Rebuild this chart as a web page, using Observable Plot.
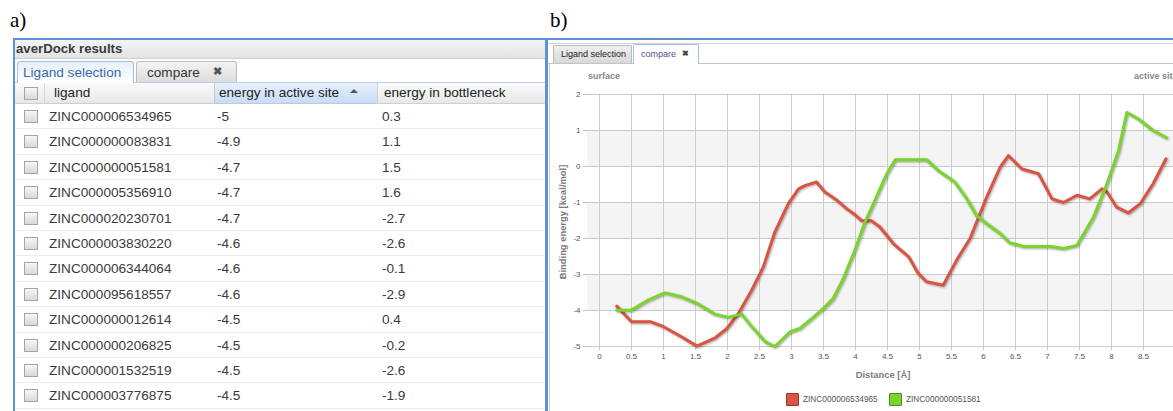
<!DOCTYPE html>
<html><head><meta charset="utf-8">
<script src="https://cdn.jsdelivr.net/npm/d3@7"></script>
<script src="https://cdn.jsdelivr.net/npm/@observablehq/plot@0.6"></script>
<style>
body{margin:0;width:1173px;height:411px;overflow:hidden;position:relative;background:#fff;font-family:"Liberation Sans",Arial,sans-serif;}
.abs{position:absolute;box-sizing:border-box;white-space:nowrap;}
.plabel{font-family:"Liberation Serif","Times New Roman",serif;font-size:21px;line-height:21px;color:#000;}
.cb{position:absolute;width:14px;height:13px;border:1px solid #a4a4a4;background:linear-gradient(#f7f7f7,#d9d9d9);box-sizing:border-box;}
.tcell{position:absolute;font-size:13.6px;color:#3a3a3a;}
#plotA svg g[aria-label="line"] path{filter:drop-shadow(1px 1.5px 1px rgba(0,0,0,0.35));}
</style></head><body>
<div id="root"></div>
<script>
// ---------- data ----------
const ligands = ["ZINC000006534965","ZINC000000083831","ZINC000000051581","ZINC000005356910","ZINC000020230701","ZINC000003830220","ZINC000006344064","ZINC000095618557","ZINC000000012614","ZINC000000206825","ZINC000001532519","ZINC000003776875"];
const energyActive = [-5,-4.9,-4.7,-4.7,-4.7,-4.6,-4.6,-4.6,-4.5,-4.5,-4.5,-4.5];
const energyBottleneck = [0.3,1.1,1.5,1.6,-2.7,-2.6,-0.1,-2.9,0.4,-0.2,-2.6,-1.9];
const tableHeaders = ["ligand","energy in active site","energy in bottleneck"];
const seriesNames = ["ZINC000006534965","ZINC000000051581"];
const seriesColors = ["#db5442","#79d42b"];
const redX = [0.27,0.50,0.79,1.00,1.28,1.52,1.80,1.99,2.17,2.38,2.56,2.74,2.95,3.11,3.21,3.39,3.52,3.71,3.86,3.97,4.10,4.25,4.38,4.59,4.83,4.98,5.11,5.37,5.58,5.79,6.05,6.26,6.39,6.60,6.86,7.07,7.25,7.46,7.66,7.85,7.93,8.08,8.26,8.45,8.65,8.85];
const redY = [-3.88,-4.31,-4.31,-4.45,-4.73,-4.99,-4.77,-4.50,-4.08,-3.43,-2.79,-1.82,-1.03,-0.62,-0.53,-0.43,-0.71,-0.94,-1.17,-1.31,-1.51,-1.51,-1.68,-2.14,-2.51,-2.97,-3.20,-3.30,-2.60,-2.00,-0.85,-0.02,0.30,-0.07,-0.20,-0.90,-1.00,-0.80,-0.90,-0.62,-0.71,-1.13,-1.29,-1.03,-0.48,0.21];
const greenX = [0.27,0.50,0.76,1.02,1.28,1.52,1.80,2.01,2.22,2.38,2.59,2.74,2.98,3.13,3.32,3.50,3.65,3.81,3.99,4.15,4.28,4.49,4.62,5.11,5.29,5.55,5.74,5.89,6.05,6.26,6.41,6.62,7.04,7.25,7.46,7.72,7.93,8.11,8.24,8.42,8.65,8.86];
const greenY = [-3.99,-3.99,-3.71,-3.51,-3.62,-3.80,-4.10,-4.19,-4.10,-4.45,-4.87,-5.00,-4.59,-4.50,-4.22,-3.94,-3.67,-3.11,-2.33,-1.54,-1.03,-0.20,0.19,0.19,-0.11,-0.43,-0.90,-1.36,-1.59,-1.86,-2.12,-2.22,-2.22,-2.28,-2.19,-1.40,-0.48,0.44,1.50,1.32,1.00,0.80];
const xGrid = [0,0.5,1,1.5,2,2.5,3,3.5,4,4.5,5,5.5,6,6.5,7,7.5,8,8.5,9];
const xTickLabels = [0,0.5,1,1.5,2,2.5,3,3.5,4,4.5,5,5.5,6,6.5,7,7.5,8,8.5];
const yTicks = [-5,-4,-3,-2,-1,0,1,2];
const xDomain = [-0.1875, 9.25];
const yDomain = [-5, 2];
const bandLo = [0,-2,-4];
const bandHi = [1,-1,-3];

// ---------- helpers ----------
const root = document.getElementById("root");
function box(css, text, cls){
  const d = document.createElement("div");
  d.className = "abs" + (cls ? " " + cls : "");
  d.style.cssText = css;
  if (text != null) d.textContent = text;
  root.appendChild(d);
  return d;
}

// ---------- panel a: table ----------
box("left:10px;top:10px;", "a)", "plabel");
box("left:13px;top:38px;width:534px;height:400px;border-left:2px solid #5f91d6;border-top:2px solid #5f91d6;border-right:2px solid #5f91d6;background:#fff;");
box("left:15px;top:40px;width:530px;height:19px;background:linear-gradient(#f4f4f4,#e3e3e3);border-bottom:1px solid #cfcfcf;font-weight:bold;font-size:13.2px;color:#3a3a3a;line-height:18px;padding-left:1px;", "averDock results");
box("left:15px;top:82px;width:530px;height:1px;background:#b9cde6;");
box("left:17px;top:61px;width:117px;height:22px;border:1px solid #a6c1e4;border-bottom:none;border-radius:3px 3px 0 0;background:linear-gradient(#e6f0fb,#ffffff);font-size:13.6px;color:#3a68b0;line-height:21px;padding-left:5px;", "Ligand selection");
box("left:136px;top:61px;width:101px;height:21px;border:1px solid #bcbcbc;border-bottom:none;border-radius:3px 3px 0 0;background:linear-gradient(#f3f3f3,#dcdcdc);font-size:13.6px;color:#333;line-height:21px;padding-left:10px;", "compare");
box("left:213px;top:61px;font-size:11px;line-height:21px;color:#555;font-weight:bold;", "\u2716");
// header row
box("left:15px;top:83px;width:530px;height:21px;background:linear-gradient(#fbfbfb,#e7e7e7);border-bottom:1px solid #cfcfcf;");
box("left:214px;top:83px;width:164px;height:21px;background:linear-gradient(#e6f0fc,#c8dcf5);border-left:1px solid #c9c9c9;border-right:1px solid #d3d3d3;border-bottom:1px solid #b7cbe6;");
box("left:44px;top:83px;width:1px;height:21px;background:#d8d8d8;");
const cbh = document.createElement("div"); cbh.className = "cb"; cbh.style.left = "24px"; cbh.style.top = "87px"; root.appendChild(cbh);
const headX = [54, 219, 384];
tableHeaders.forEach((h, i) => box(`left:${headX[i]}px;top:83px;line-height:20px;`, h, "tcell").style.color = "#222");
box("left:350px;top:89px;width:0;height:0;border-left:4px solid transparent;border-right:4px solid transparent;border-bottom:4px solid #555;");
// rows
const rowTop = 104, rowH = 25.4;
ligands.forEach((lig, i) => {
  const top = rowTop + i * rowH;
  box(`left:15px;top:${top}px;width:530px;height:${rowH}px;border-bottom:1px solid #ececec;background:#fff;`);
  const cb = document.createElement("div"); cb.className = "cb";
  cb.style.left = "24px"; cb.style.top = (top + 6) + "px"; root.appendChild(cb);
  box(`left:49px;top:${top}px;line-height:${rowH}px;`, lig, "tcell");
  box(`left:217px;top:${top}px;line-height:${rowH}px;`, String(energyActive[i]), "tcell");
  box(`left:382px;top:${top}px;line-height:${rowH}px;`, String(energyBottleneck[i]), "tcell");
});

// ---------- panel b: chart ----------
box("left:550px;top:10px;", "b)", "plabel");
box("left:545px;top:38px;width:700px;height:400px;border-left:3px solid #5f91d6;border-top:2px solid #5f91d6;background:#fff;");
box("left:548px;top:43px;width:700px;height:1px;background:#d2d2d2;");
box("left:548px;top:63px;width:700px;height:1px;background:#c4c4c4;");
box("left:549px;top:63px;width:1px;height:360px;background:#c9c9c9;");
box("left:553px;top:45px;width:79px;height:18px;border:1px solid #b9b9b9;border-bottom:none;border-radius:2px 2px 0 0;background:linear-gradient(#efefef,#d8d8d8);font-size:9px;color:#222;line-height:17px;padding-left:7px;", "Ligand selection");
box("left:633px;top:44px;width:66px;height:20px;border:1px solid #9dc1ea;border-bottom:none;border-radius:2px 2px 0 0;background:#fff;font-size:9px;color:#5a4c92;line-height:19px;padding-left:7px;", "compare");
box("left:682px;top:44px;font-size:8px;line-height:19px;color:#444;font-weight:bold;", "\u2716");
box("left:588px;top:71px;font-size:9px;font-weight:bold;color:#888;line-height:11px;", "surface");
box("left:1134px;top:71px;font-size:9px;font-weight:bold;color:#888;line-height:11px;", "active site");

const redData = redX.map((x, i) => ({x, y: redY[i], s: seriesNames[0]}));
const greenData = greenX.map((x, i) => ({x, y: greenY[i], s: seriesNames[1]}));
const bands = bandLo.map((lo, i) => ({lo, hi: bandHi[i]}));

const chart = Plot.plot({
  width: 644, height: 300,
  marginLeft: 40, marginRight: 0, marginTop: 30, marginBottom: 18,
  x: {domain: xDomain},
  y: {domain: yDomain},
  style: {fontFamily: "'Liberation Sans', Arial, sans-serif", fontSize: "8px", color: "#555", background: "transparent", overflow: "visible", maxWidth: "none"},
  marks: [
    Plot.rectY(bands, {y1: "lo", y2: "hi", x1: xDomain[0], x2: xDomain[1], fill: "#f4f4f4"}),
    Plot.ruleX(xGrid, {stroke: "#cdcdcd"}),
    Plot.ruleY(yTicks, {stroke: "#c9c9c9"}),
    Plot.axisX({ticks: xTickLabels, tickSize: 4, tickPadding: 3, label: null, stroke: "#c9c9c9", tickFormat: d => String(d)}),
    Plot.axisY({ticks: yTicks, tickSize: 4, tickPadding: 3, label: null, stroke: "#bbb", tickFormat: d => String(d)}),
    Plot.line(redData, {x: "x", y: "y", stroke: seriesColors[0], strokeWidth: 3, strokeLinejoin: "round"}),
    Plot.line(greenData, {x: "x", y: "y", stroke: seriesColors[1], strokeWidth: 3, strokeLinejoin: "round"})
  ]
});
const holder = box("left:547px;top:64px;width:644px;height:300px;");
holder.id = "plotA";
holder.appendChild(chart);

// axis titles
box("left:562px;top:222px;transform:translate(-50%,-50%) rotate(-90deg);font-size:9.4px;font-weight:bold;color:#7a7a7a;line-height:11px;", "Binding energy [kcal/mol]");
box("left:883px;top:374px;transform:translate(-50%,-50%);font-size:9.4px;font-weight:bold;color:#7a7a7a;line-height:11px;", "Distance [\u00c5]");

// legend
const legX = [786, 889];
seriesNames.forEach((name, i) => {
  box(`left:${legX[i]}px;top:393px;width:13px;height:13px;background:${seriesColors[i]};border:1px solid ${i ? "#4e8f1f" : "#8e3a2f"};border-radius:1px;`);
  box(`left:${legX[i] + 17}px;top:393px;font-size:8.3px;color:#555;line-height:13px;`, name);
});
</script>
</body></html>
